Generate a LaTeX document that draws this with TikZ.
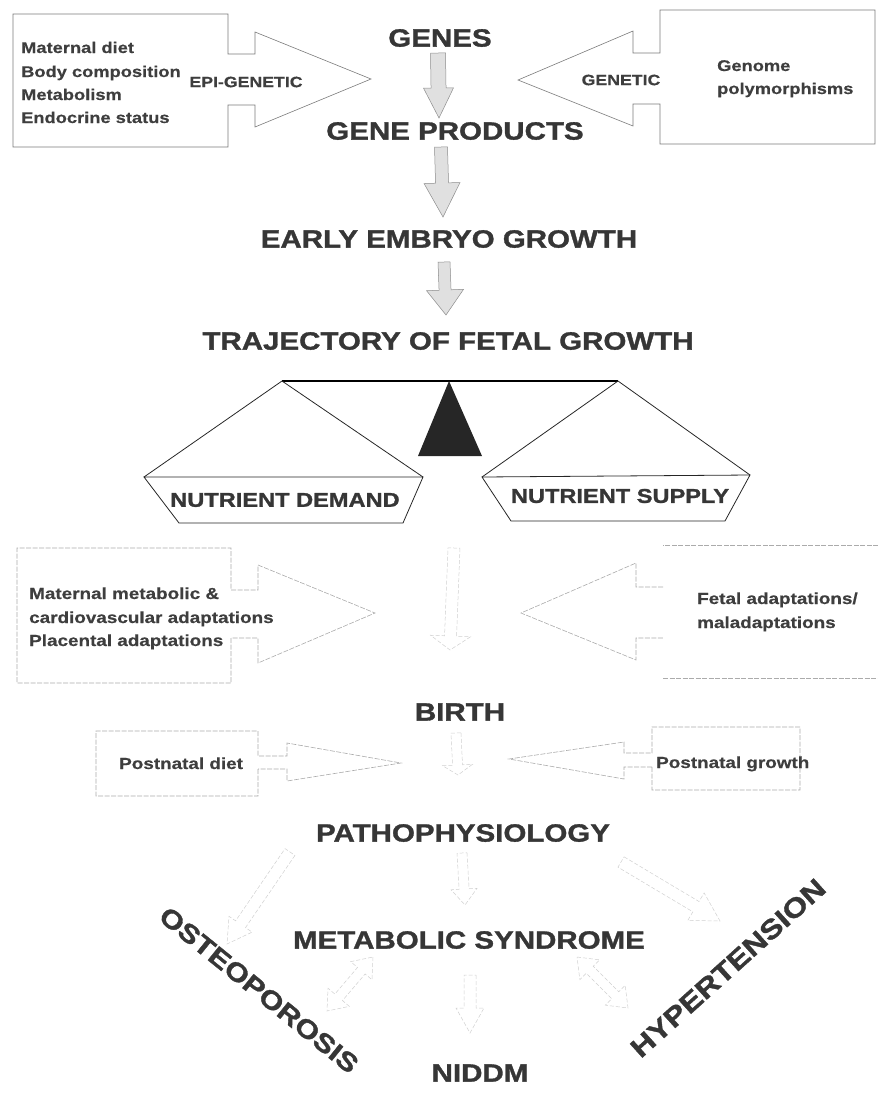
\documentclass[tikz,border=0pt]{standalone}
\usepackage{fontspec}
\setmainfont{Liberation Sans}
\newfontfamily\hd[FakeStretch=1.18,FakeBold=1.3]{Liberation Sans}
\newfontfamily\sm[FakeStretch=1.18,FakeBold=0.5]{Liberation Sans}
\usetikzlibrary{calc}
\definecolor{ink}{HTML}{363636}
\definecolor{sink}{HTML}{3E3E3E}
\definecolor{boxline}{HTML}{7A7A7A}
\definecolor{lowline}{HTML}{ABABAB}
\definecolor{ghostc}{HTML}{CFCFCF}
\definecolor{arrfill}{HTML}{E0E0E0}
\definecolor{arrline}{HTML}{8C8C8C}

% single block arrow: #1 style, #2 from, #3 to, #4 shaft half-width, #5 head half-width, #6 head length
\newcommand{\blockarr}[6]{%
  \coordinate (ba-hb) at ($(#3)!#6!(#2)$);
  \draw[#1] ($(#2)!#4!90:(#3)$) -- ($(ba-hb)!#4!90:(#3)$) -- ($(ba-hb)!#5!90:(#3)$) -- (#3)
    -- ($(ba-hb)!#5!-90:(#3)$) -- ($(ba-hb)!#4!-90:(#3)$) -- ($(#2)!#4!-90:(#3)$) -- cycle;}
% double-headed block arrow
\newcommand{\dblarr}[6]{%
  \coordinate (da-ha) at ($(#2)!#6!(#3)$);
  \coordinate (da-hb) at ($(#3)!#6!(#2)$);
  \draw[#1] (#2) -- ($(da-ha)!#5!90:(#3)$) -- ($(da-ha)!#4!90:(#3)$) -- ($(da-hb)!#4!90:(#3)$)
    -- ($(da-hb)!#5!90:(#3)$) -- (#3) -- ($(da-hb)!#5!-90:(#3)$) -- ($(da-hb)!#4!-90:(#3)$)
    -- ($(da-ha)!#4!-90:(#3)$) -- ($(da-ha)!#5!-90:(#3)$) -- cycle;}

\begin{document}
\begin{tikzpicture}[x=1pt,y=-1pt,
  heading/.style={font=\hd\bfseries\fontsize{25}{25}\selectfont, text=ink, inner sep=0pt},
  panlabel/.style={font=\hd\bfseries\fontsize{20}{20}\selectfont, text=ink, inner sep=0pt},
  smalltxt/.style={font=\sm\bfseries\fontsize{15.5}{15.5}\selectfont, text=sink, inner sep=0pt, anchor=base west},
  lowtxt/.style={font=\sm\bfseries\fontsize{16}{16}\selectfont, text=sink, inner sep=0pt, anchor=base west},
  tagtxt/.style={font=\sm\bfseries\fontsize{15}{15}\selectfont, text=sink, inner sep=0pt},
  boxout/.style={draw=boxline, line width=0.6pt},
  lowbox/.style={draw=lowline, line width=0.6pt, dash pattern=on 5pt off 1.5pt},
  downarr/.style={fill=arrfill, draw=arrline, line width=0.5pt},
  ghost/.style={draw=ghostc, line width=0.5pt, dash pattern=on 4pt off 2pt},
  beam/.style={draw=black, line width=1.8pt},
  pan/.style={draw=black!85, line width=0.8pt},
]
\useasboundingbox (0,0) rectangle (878,1120);

% ---------- top block arrows ----------
\draw[boxout] (228,105) -- (228,147) -- (13,147) -- (13,14) -- (228,14) -- (228,54)
  -- (255,54) -- (255,32) -- (371,79) -- (255,127) -- (255,105) -- cycle;
\draw[boxout] (660,104) -- (660,144) -- (875,144) -- (875,10) -- (660,10) -- (660,53)
  -- (633,53) -- (633,31) -- (518,80) -- (633,126) -- (633,104) -- cycle;

\node[smalltxt] (md) at (21,53) {Maternal diet};
\node[smalltxt] (bc) at (21,77) {Body composition};
\node[smalltxt] (mb) at (21,100) {Metabolism};
\node[smalltxt] (es) at (21,123) {Endocrine status};
\node[tagtxt] (epi) at (246,82) {EPI-GENETIC};
\node[tagtxt] (gen) at (621,80) {GENETIC};
\node[smalltxt] (gm) at (717,71) {Genome};
\node[smalltxt] (pm) at (717,94) {polymorphisms};

% ---------- main column ----------
\node[heading] (genes) at (440,38) {GENES};
\node[heading] (gprod) at (455,131) {GENE PRODUCTS};
\node[heading] (early) at (449,239) {EARLY EMBRYO GROWTH};
\node[heading] (traj) at (448,341) {TRAJECTORY OF FETAL GROWTH};

\coordinate (a1s) at (438,53);  \coordinate (a1e) at (439,118);
\coordinate (a2s) at (441,147); \coordinate (a2e) at (443,217);
\coordinate (a3s) at (444,262); \coordinate (a3e) at (446,315);
\blockarr{downarr}{a1s}{a1e}{7.5pt}{15pt}{30pt}
\blockarr{downarr}{a2s}{a2e}{6.5pt}{18pt}{34pt}
\blockarr{downarr}{a3s}{a3e}{6pt}{18.5pt}{25pt}

% ---------- balance ----------
\draw[beam] (282,381) -- (618,381);
\fill[black!85] (449,381) -- (482,456) -- (418,456) -- cycle;
\draw[pan] (144,477) -- (282,381) -- (423,477);
\draw[pan] (144,477) -- (423,477) -- (403,523) -- (179,523) -- cycle;
\draw[pan] (482,477) -- (618,381) -- (750,475);
\draw[pan] (482,477) -- (750,475) -- (725,521) -- (511,521) -- cycle;
\node[panlabel] (demand) at (285,500) {NUTRIENT DEMAND};
\node[panlabel] (supply) at (620,496) {NUTRIENT SUPPLY};

% ---------- pregnancy adaptations ----------
\draw[lowbox] (231,638) -- (231,683) -- (17,683) -- (17,548) -- (231,548) -- (231,590)
  -- (258,590) -- (258,565) -- (375,613) -- (258,663) -- (258,638) -- cycle;
\draw[lowbox] (878,545) -- (663,545);
\draw[lowbox] (663,678) -- (878,678);
\draw[lowbox] (663,587) -- (636,587) -- (636,563) -- (521,613) -- (636,660) -- (636,638) -- (663,638);
\node[lowtxt] (mm) at (29,599) {Maternal metabolic \&};
\node[lowtxt] (cv) at (29,623) {cardiovascular adaptations};
\node[lowtxt] (pl) at (29,646) {Placental adaptations};
\node[lowtxt] (fa) at (697,604) {Fetal adaptations/};
\node[lowtxt] (ma) at (697,628) {maladaptations};
\coordinate (g1s) at (454,548); \coordinate (g1e) at (450,650);
\blockarr{ghost}{g1s}{g1e}{6pt}{20pt}{14pt}

% ---------- birth ----------
\node[heading] (birth) at (460,712) {BIRTH};
\draw[lowbox] (258,769) -- (258,796) -- (96,796) -- (96,731) -- (258,731) -- (258,756)
  -- (287,756) -- (287,743) -- (401,763) -- (287,781) -- (287,769) -- cycle;
\draw[lowbox] (652,767) -- (652,790) -- (800,790) -- (800,727) -- (652,727) -- (652,753)
  -- (624,753) -- (624,742) -- (509,759) -- (624,779) -- (624,767) -- cycle;
\node[lowtxt] (pd) at (119,769) {Postnatal diet};
\node[lowtxt] (pg) at (656,768) {Postnatal growth};
\coordinate (g2s) at (456,733); \coordinate (g2e) at (458,775);
\blockarr{ghost}{g2s}{g2e}{5pt}{15pt}{10pt}

% ---------- outcomes ----------
\node[heading] (patho) at (463,833) {PATHOPHYSIOLOGY};
\node[heading] (meta) at (469,940) {METABOLIC SYNDROME};
\node[heading] (niddm) at (480,1073) {NIDDM};
\node[heading, font=\hd\bfseries\fontsize{26}{26}\selectfont, rotate=-39] (osteo) at (259,990) {OSTEOPOROSIS};
\node[heading, font=\hd\bfseries\fontsize{27}{27}\selectfont, rotate=42] (hyper) at (728,968) {HYPERTENSION};

\coordinate (g3s) at (290,852); \coordinate (g3e) at (227,944);
\blockarr{ghost}{g3s}{g3e}{6pt}{14pt}{24pt}
\coordinate (g4s) at (462,853); \coordinate (g4e) at (465,905);
\blockarr{ghost}{g4s}{g4e}{5pt}{13pt}{16pt}
\coordinate (g5s) at (621,862); \coordinate (g5e) at (720,921);
\blockarr{ghost}{g5s}{g5e}{6pt}{16pt}{28pt}
\coordinate (g6s) at (373,957); \coordinate (g6e) at (327,1011);
\dblarr{ghost}{g6s}{g6e}{5pt}{14pt}{18pt}
\coordinate (g7s) at (470,975); \coordinate (g7e) at (470,1033);
\blockarr{ghost}{g7s}{g7e}{6pt}{14pt}{25pt}
\coordinate (g8s) at (577,957); \coordinate (g8e) at (628,1008);
\dblarr{ghost}{g8s}{g8e}{5pt}{14pt}{18pt}
\end{tikzpicture}
\end{document}
